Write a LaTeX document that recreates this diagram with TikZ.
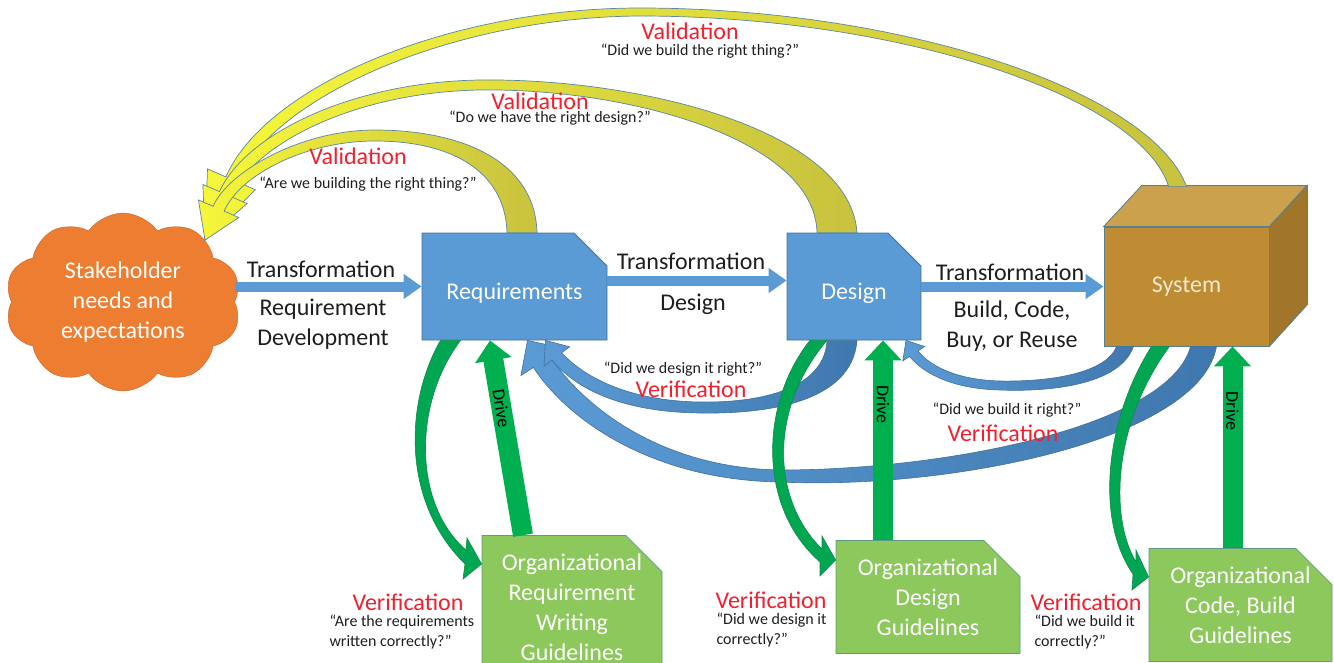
\documentclass[tikz,border=0pt]{standalone}
\usepackage{fontspec}
\setmainfont{Carlito}
\usepackage{xcolor}
\newcommand{\mainsize}{\fontsize{24}{30}\selectfont}
\newcommand{\quotesize}{\fontsize{16}{20}\selectfont}
\newcommand{\drivesize}{\fontsize{18}{20}\selectfont}
\definecolor{boxblue}{HTML}{5B9BD5}
\definecolor{boxline}{HTML}{41719C}
\definecolor{verdark}{HTML}{3F78AE}
\definecolor{yel}{HTML}{F6F63A}
\definecolor{olv}{HTML}{C8C23E}
\definecolor{valline}{HTML}{5A86A0}
\definecolor{cloudorange}{HTML}{ED7D31}
\definecolor{cloudline}{HTML}{C9652A}
\definecolor{orggreen}{HTML}{8CC85C}
\definecolor{orgline}{HTML}{5E9C86}
\definecolor{drivegreen}{HTML}{00B050}
\definecolor{curgreen}{HTML}{00A651}
\definecolor{curdark}{HTML}{13894B}
\definecolor{cubefront}{HTML}{BF8C33}
\definecolor{cubetop}{HTML}{CCA14D}
\definecolor{cuberight}{HTML}{A1752A}
\definecolor{cubeline}{HTML}{58808E}
\definecolor{verred}{HTML}{F0202F}
\definecolor{txtblack}{HTML}{1E1E1E}
\definecolor{systext}{HTML}{F3E9CF}
\usetikzlibrary{arrows.meta,shapes.misc,shapes.symbols}

\begin{document}
\begin{tikzpicture}[x=1pt,y=-1pt,
 artifact/.style={chamfered rectangle,chamfered rectangle corners=north east,
   chamfered rectangle sep=18pt,inner sep=0pt,fill=boxblue,draw=boxline,
   line width=0.8pt,text=white,font=\mainsize,align=center},
 lowtext/.style={text height=28pt,text depth=2pt},
 orgbox/.style={artifact,fill=orggreen,draw=orgline},
 lbl/.style={font=\mainsize,text=txtblack,align=center},
 redlbl/.style={font=\mainsize,text=verred},
 qlbl/.style={font=\quotesize,text=txtblack},
 trans/.style={draw=boxblue,line width=10pt,-{Triangle[length=18pt,width=24pt]}},
 drive/.style={draw=drivegreen,line width=20pt,-{Triangle[length=20pt,width=36pt]}},
 drivetext/.style={font=\drivesize,text=black},
 valarrow/.style={draw=valline,line width=0.7pt,left color=yel,right color=olv},
 verarrow/.style={draw=boxline,line width=0.6pt,left color=boxblue,right color=verdark},
 curarrow/.style={draw=curdark,line width=0.6pt,fill=curgreen}]
 \useasboundingbox (0,0) rectangle (1334,662);
 \clip (0,0) rectangle (1334,662);

 % the things that are transformed
 \node[cloud,cloud puffs=10,cloud puff arc=110,aspect=1.3,minimum width=236pt,
   minimum height=178pt,inner sep=0pt,fill=cloudorange,draw=cloudline,
   text=white,font=\mainsize,align=center] (cloud) at (123,302)
   {Stakeholder\\needs and\\expectations};
 \node[artifact,lowtext,minimum width=185pt,minimum height=107pt] (req) at (514.5,286.5) {Requirements};
 \node[artifact,lowtext,minimum width=134pt,minimum height=107pt] (des) at (854,286.5) {Design};
 \node[rectangle,fill=cubefront,draw=cubeline,line width=0.8pt,minimum width=165pt,
   minimum height=119pt,text=systext,font=\mainsize] (sys) at (1186.5,286.5) {System};
 \filldraw[fill=cubetop,draw=cubeline,line width=0.8pt]
   (sys.north west) -- ++(38,-41) -- ++(165,0) -- (sys.north east) -- cycle;
 \filldraw[fill=cuberight,draw=cubeline,line width=0.8pt]
   (sys.north east) -- ++(38,-41) -- ++(0,119) -- (sys.south east) -- cycle;

 % guidelines
 \node[orgbox,minimum width=180pt,minimum height=133pt] (org1) at (572,607)
   {Organizational\\Requirement\\Writing\\Guidelines};
 \node[orgbox,minimum width=184pt,minimum height=110pt] (org2) at (928,597)
   {Organizational\\Design\\Guidelines};
 \node[orgbox,minimum width=183pt,minimum height=106pt] (org3) at (1240.5,605)
   {Organizational\\Code, Build\\Guidelines};

 % validation
 \draw[valarrow] ([xshift=83pt,yshift=40pt]sys.north west) .. controls (1150,90) and (900,8) .. (640,8)
   .. controls (450,8) and (266,85) .. (225.9,176.9) -- (207.5,168.9) -- (205,240)
   -- (255.3,189.7) -- (236.9,181.7) .. controls (275,95) and (455,17) .. (640,16)
   .. controls (895,16) and (1140,95) .. ([xshift=65pt,yshift=40pt]sys.north west) -- cycle;
 \draw[valarrow] ([xshift=3pt]des.north) .. controls (850,130) and (640,78) .. (480,80)
   .. controls (350,82) and (245,135) .. (219.5,191.6) -- (202.9,184.4) -- (205,240)
   -- (247.1,203.6) -- (230.5,196.4) .. controls (258,140) and (360,92) .. (480,90)
   .. controls (630,88) and (815,140) .. ([xshift=-37pt]des.north) -- cycle;
 \draw[valarrow] ([xshift=22.5pt]req.north) .. controls (535,160) and (460,130) .. (375,130)
   .. controls (300,130) and (228,172) .. (213.1,206.3) -- (198.4,199.9) -- (205,240)
   -- (238.8,217.5) -- (224.1,211.1) .. controls (240,175) and (305,141) .. (375,141)
   .. controls (450,141) and (505,170) .. ([xshift=-7.5pt]req.north) -- cycle;

 % transformation
 \draw[trans] (req.west -| cloud.east) -- (req.west);
 \draw[trans] ([yshift=6pt]req.east) -- ([yshift=6pt]req.east -| des.west);
 \draw[trans] (des.east) -- (sys.west);

 % verification
 \draw[verarrow] ([xshift=30pt]sys.south) .. controls (1200,440) and (950,490) .. (780,482)
   .. controls (650,480) and (566,418) .. (533.4,367.4) -- (520.9,375.6)
   -- ([xshift=13pt]req.south) -- (562.6,348.1) -- (550.1,356.4)
   .. controls (583,406) and (660,468) .. (780,470)
   .. controls (950,470) and (1170,425) .. ([xshift=4pt]sys.south) -- cycle;
 \draw[verarrow] ([xshift=-53pt]sys.south) .. controls (1120,385) and (1050,392) .. (1000,390)
   .. controls (955,389) and (925,375) .. (909.5,356.5) -- (902.8,360.9)
   -- ([xshift=52pt]des.south) -- (924.6,346.5) -- (917.9,351)
   .. controls (932,368) and (960,380) .. (1000,381)
   .. controls (1060,382) and (1108,370) .. ([xshift=-70pt]sys.south) -- cycle;
 \draw[verarrow] ([xshift=3pt]des.south) .. controls (852,405) and (760,414) .. (700,413)
   .. controls (620,412) and (575,388) .. (552,360) -- (544,366)
   -- ([xshift=31pt]req.south) -- (569.6,346.8) -- (561.6,352.8)
   .. controls (585,378) and (630,401) .. (700,402)
   .. controls (772,403) and (825,384) .. ([xshift=-27pt]des.south) -- cycle;

 \draw[curarrow] ([xshift=-74pt]req.south) .. controls (406,400) and (400,500) .. (465,564)
   -- (463,579) -- ([yshift=43pt]org1.west) -- (467,538) -- (466,550)
   .. controls (414,505) and (412,405) .. ([xshift=-54pt]req.south) -- cycle;
 \draw[curarrow] ([xshift=-44pt]des.south) .. controls (762,400) and (755,505) .. (820,562)
   -- (820,576) -- ([yshift=37pt]org2.west) -- (822,536) -- (822,549)
   .. controls (772,500) and (768,410) .. ([xshift=-27pt]des.south) -- cycle;
 \draw[curarrow] ([xshift=-35pt]sys.south) .. controls (1105,420) and (1095,520) .. (1133,574)
   -- (1132,590) -- ([yshift=28pt]org3.west) -- (1136,550) -- (1136,562)
   .. controls (1108,515) and (1115,420) .. ([xshift=-17pt]sys.south) -- cycle;

 % drive
 \draw[drive] ([xshift=-49pt]org1.north) -- ([xshift=-24.5pt]req.south)
   node[pos=0.65,rotate=-80.7,drivetext] (drv1) {Drive};
 \draw[drive] ([xshift=-45pt]org2.north) -- ([xshift=-45pt]org2.north |- des.south)
   node[pos=0.68,rotate=-90,drivetext] (drv2) {Drive};
 \draw[drive] ([xshift=-8pt]org3.north) -- ([xshift=-8pt]org3.north |- sys.south)
   node[pos=0.68,rotate=-90,drivetext] (drv3) {Drive};

 % labels
 \node[redlbl] (valsys) at (690,31) {Validation};
 \node[qlbl] (valsysq) at (700,51) {“Did we build the right thing?”};
 \node[redlbl] (valdes) at (540,101) {Validation};
 \node[qlbl] (valdesq) at (550,118) {“Do we have the right design?”};
 \node[redlbl] (valreq) at (358,156) {Validation};
 \node[qlbl] (valreqq) at (368,184) {“Are we building the right thing?”};

 \node[lbl] (tr1) at (321,269) {Transformation};
 \node[lbl] (tr1b) at (323,324) {Requirement\\Development};
 \node[lbl] (tr2) at (691,261) {Transformation};
 \node[lbl] (tr2b) at (693,304) {Design};
 \node[lbl] (tr3) at (1010,272) {Transformation};
 \node[lbl] (tr3b) at (1012,326) {Build, Code,\\Buy, or Reuse};

 \node[qlbl] (verdesq) at (683,369) {“Did we design it right?”};
 \node[redlbl] (verdes) at (691,389) {Verification};
 \node[qlbl] (versysq) at (1007,410) {“Did we build it right?”};
 \node[redlbl] (versys) at (1003,433) {Verification};

 \node[redlbl] (ver1) at (408,602) {Verification};
 \node[qlbl,align=left,anchor=west] (ver1q) at (326,632) {“Are the requirements\\written correctly?”};
 \node[redlbl] (ver2) at (771,600) {Verification};
 \node[qlbl,align=left,anchor=west] (ver2q) at (713,630) {“Did we design it\\correctly?”};
 \node[redlbl] (ver3) at (1086,602) {Verification};
 \node[qlbl,align=left,anchor=west] (ver3q) at (1031,632) {“Did we build it\\correctly?”};
\end{tikzpicture}
\end{document}
